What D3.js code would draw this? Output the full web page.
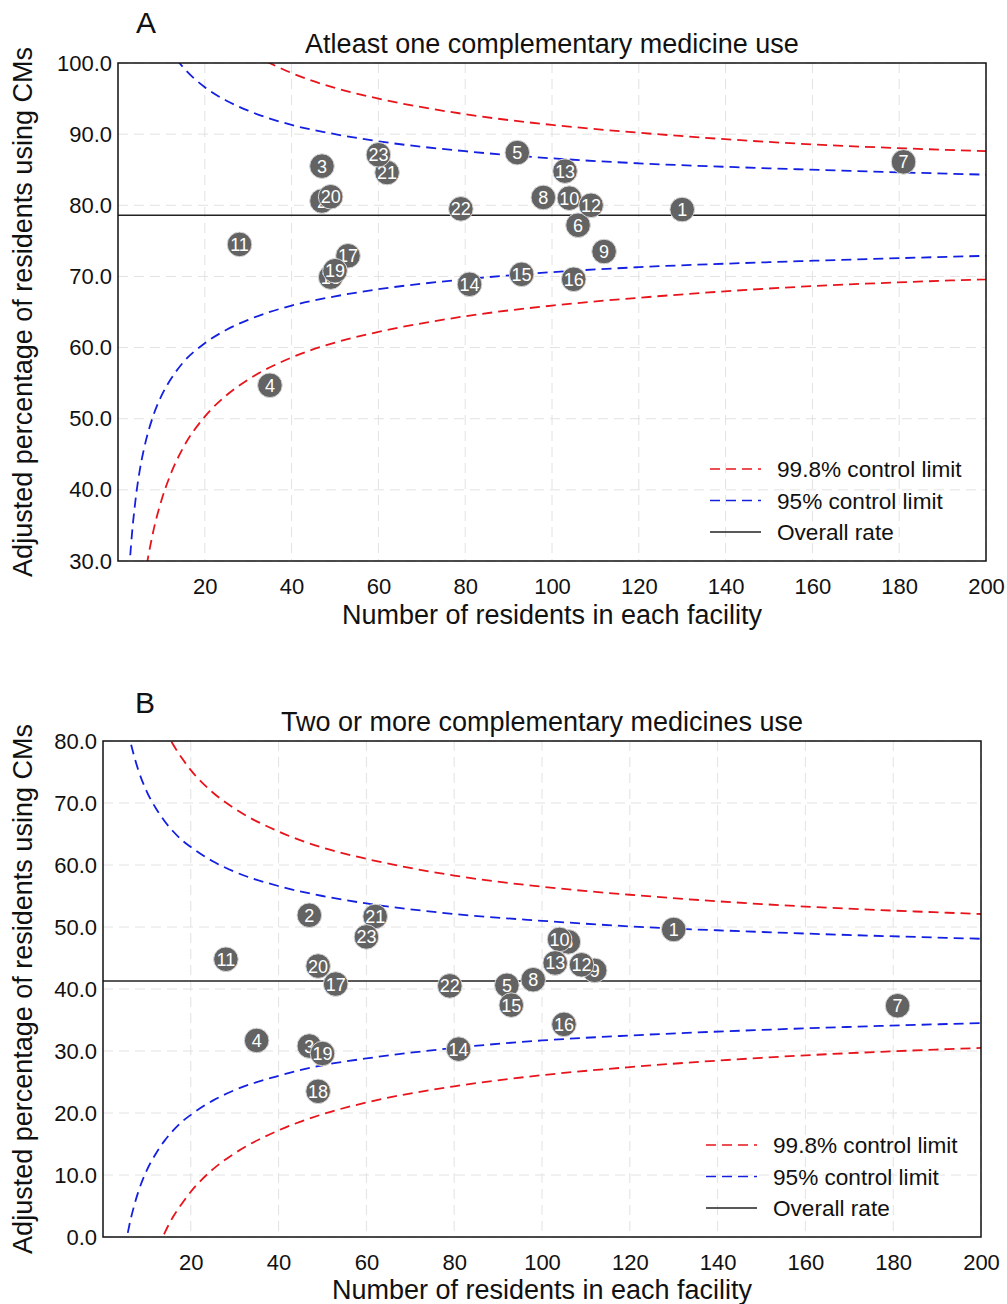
<!DOCTYPE html>
<html>
<head>
<meta charset="utf-8">
<script src="https://cdn.jsdelivr.net/npm/d3@7"></script>
<style>
  body { margin: 0; background: #fff; }
  text { font-family: Arial, "Liberation Sans", sans-serif; }
</style>
</head>
<body>
<script>
//Width and height
var w = 1007;
var h = 1304;

//Data: facilities (same facilities in both panels)
var facilityIds = [1, 2, 3, 4, 5, 6, 7, 8, 9, 10, 11, 12, 13, 14, 15, 16, 17, 18, 19, 20, 21, 22, 23];
var residents   = [130, 47, 47, 35, 92, 106, 181, 98, 112, 104, 28, 109, 103, 81, 93, 105, 53, 49, 50, 49, 62, 79, 60];

//Panel A: at least one CM
var rateA = [79.4, 80.6, 85.5, 54.7, 87.4, 77.2, 86.1, 81.1, 73.5, 81.0, 74.5, 80.0, 84.8, 68.9, 70.3, 69.6, 72.9, 69.9, 70.8, 81.2, 84.6, 79.5, 87.1];
var overallA = 78.6;
var limitNA    = [2, 2.5, 3, 4, 5, 6, 8, 10, 12, 15, 20, 25, 30, 40, 50, 60, 80, 100, 120, 150, 200];
var upper95A   = [135.4, 129.4, 125.0, 118.8, 114.6, 111.4, 107.0, 104.0, 101.8, 99.4, 96.6, 94.7, 93.3, 91.3, 90.0, 89.0, 87.6, 86.6, 85.9, 85.2, 84.3];
var lower95A   = [21.8, 27.8, 32.2, 38.4, 42.7, 45.8, 50.2, 53.2, 55.4, 57.9, 60.6, 62.5, 63.9, 65.9, 67.2, 68.2, 69.6, 70.6, 71.3, 72.0, 72.9];
var upper998A  = [168.2, 158.7, 151.8, 142.0, 135.3, 130.3, 123.4, 118.7, 115.2, 111.3, 106.9, 103.9, 101.7, 98.6, 96.5, 95.0, 92.8, 91.3, 90.2, 88.9, 87.6];
var lower998A  = [-11.0, -1.5, 5.5, 15.3, 21.9, 26.9, 33.8, 38.5, 42.0, 45.9, 50.3, 53.3, 55.5, 58.6, 60.7, 62.2, 64.4, 65.9, 67.0, 68.3, 69.6];

//Panel B: two or more CMs
var rateB = [49.6, 51.9, 30.8, 31.7, 40.6, 47.6, 37.3, 41.5, 43.0, 48.0, 44.8, 43.9, 44.2, 30.3, 37.4, 34.3, 40.8, 23.5, 29.6, 43.7, 51.7, 40.5, 48.4];
var overallB = 41.3;
var limitNB    = [4, 5, 6, 7, 8, 10, 12, 14, 16, 18, 20, 25, 30, 40, 50, 60, 80, 100, 120, 150, 200];
var upper95B   = [89.6, 84.5, 80.7, 77.8, 75.4, 71.8, 69.2, 67.1, 65.4, 64.0, 62.9, 60.6, 58.9, 56.6, 55.0, 53.8, 52.1, 51.0, 50.1, 49.2, 48.1];
var lower95B   = [-7.0, -1.9, 1.9, 4.8, 7.2, 10.8, 13.4, 15.5, 17.2, 18.6, 19.7, 22.0, 23.7, 26.0, 27.7, 28.8, 30.5, 31.7, 32.5, 33.4, 34.5];
var upper998B  = [117.4, 109.4, 103.4, 98.8, 95.1, 89.4, 85.2, 82.0, 79.4, 77.2, 75.3, 71.7, 69.1, 65.4, 62.8, 61.0, 58.3, 56.5, 55.2, 53.7, 52.1];
var lower998B  = [-34.8, -26.8, -20.8, -16.2, -12.5, -6.8, -2.6, 0.6, 3.3, 5.4, 7.3, 10.9, 13.5, 17.2, 19.8, 21.7, 24.3, 26.1, 27.4, 28.9, 30.5];

//Tick labels
var xTicks = [20, 40, 60, 80, 100, 120, 140, 160, 180, 200];
var yTicksA = [30, 40, 50, 60, 70, 80, 90, 100];
var yTicksB = [0, 10, 20, 30, 40, 50, 60, 70, 80];

var legendLabels = ["99.8% control limit", "95% control limit", "Overall rate"];

//Create SVG element
var svg = d3.select("body")
            .append("svg")
            .attr("width", w)
            .attr("height", h);

function drawPanel(p) {
    var x = d3.scaleLinear().domain([0, 200]).range([p.left, p.right]);
    var y = d3.scaleLinear().domain(p.yDomain).range([p.bottom, p.top]);
    var g = svg.append("g");

    //clip for the funnel curves
    g.append("clipPath").attr("id", p.id + "-clip")
        .append("rect")
        .attr("x", p.left).attr("y", p.top)
        .attr("width", p.right - p.left).attr("height", p.bottom - p.top);

    //grid
    g.selectAll(".vgrid").data(xTicks).enter().append("line")
        .attr("x1", function(d) { return x(d); })
        .attr("x2", function(d) { return x(d); })
        .attr("y1", p.top).attr("y2", p.bottom)
        .attr("stroke", "#e2e2e2").attr("stroke-width", 1)
        .attr("stroke-dasharray", "10,6");
    g.selectAll(".hgrid").data(p.yTicks).enter().append("line")
        .attr("x1", p.left).attr("x2", p.right)
        .attr("y1", function(d) { return y(d); })
        .attr("y2", function(d) { return y(d); })
        .attr("stroke", "#e2e2e2").attr("stroke-width", 1)
        .attr("stroke-dasharray", "10,6");

    //axes (labels only, no tick marks)
    var xAxis = g.append("g")
        .attr("transform", "translate(0," + p.bottom + ")")
        .call(d3.axisBottom(x).tickValues(xTicks).tickSize(0).tickPadding(17).tickFormat(d3.format("d")));
    var yAxis = g.append("g")
        .attr("transform", "translate(" + p.left + ",0)")
        .call(d3.axisLeft(y).tickValues(p.yTicks).tickSize(0).tickPadding(6).tickFormat(d3.format(".1f")));
    [xAxis, yAxis].forEach(function(a) {
        a.select(".domain").remove();
        a.selectAll("text").attr("font-size", 22).attr("fill", "#111")
            .style("font-family", "Arial, 'Liberation Sans', sans-serif");
    });

    //funnel limits
    var line = d3.line()
        .x(function(d) { return x(d[0]); })
        .y(function(d) { return y(d[1]); })
        .curve(d3.curveMonotoneX);
    var curves = [
        { v: p.upper998, c: "#e8141b" }, { v: p.lower998, c: "#e8141b" },
        { v: p.upper95, c: "#1420e0" },  { v: p.lower95, c: "#1420e0" }
    ];
    var cg = g.append("g").attr("clip-path", "url(#" + p.id + "-clip)");
    curves.forEach(function(c) {
        cg.append("path")
          .attr("d", line(d3.zip(p.limitN, c.v)))
          .attr("fill", "none")
          .attr("stroke", c.c)
          .attr("stroke-width", 1.8)
          .attr("stroke-dasharray", "10,6");
    });

    //overall rate
    g.append("line")
        .attr("x1", p.left).attr("x2", p.right)
        .attr("y1", y(p.overall)).attr("y2", y(p.overall))
        .attr("stroke", "#222").attr("stroke-width", 1.4);

    //frame
    g.append("rect")
        .attr("x", p.left).attr("y", p.top)
        .attr("width", p.right - p.left).attr("height", p.bottom - p.top)
        .attr("fill", "none").attr("stroke", "#111").attr("stroke-width", 1.5);

    //facility points
    var pts = g.selectAll(".pt")
        .data(facilityIds)
        .enter()
        .append("g")
        .attr("transform", function(d, i) {
            return "translate(" + x(residents[i]) + "," + y(p.rates[i]) + ")";
        });
    pts.append("circle")
        .attr("r", 12.3)
        .attr("fill", "#636363")
        .attr("stroke", "#d8d8d8")
        .attr("stroke-width", 1);
    pts.append("text")
        .attr("text-anchor", "middle")
        .attr("dy", "0.36em")
        .attr("font-size", 18)
        .attr("fill", "#fff")
        .text(function(d) { return d; });

    //legend
    var legendStyles = [
        { c: "#e8141b", dash: "10,6" },
        { c: "#1420e0", dash: "10,6" },
        { c: "#222", dash: null }
    ];
    legendLabels.forEach(function(lab, i) {
        var ly = p.legendY + i * 31.5;
        g.append("line")
            .attr("x1", p.legendX).attr("x2", p.legendX + 51)
            .attr("y1", ly).attr("y2", ly)
            .attr("stroke", legendStyles[i].c)
            .attr("stroke-width", 1.6)
            .attr("stroke-dasharray", legendStyles[i].dash);
        g.append("text")
            .attr("x", p.legendX + 67).attr("y", ly + 8)
            .attr("font-size", 22.6)
            .attr("fill", "#111")
            .text(lab);
    });

    //titles
    g.append("text")
        .attr("x", p.letterX).attr("y", p.letterY)
        .attr("text-anchor", "middle")
        .attr("font-size", 30)
        .attr("fill", "#111")
        .text(p.letter);
    g.append("text")
        .attr("x", (p.left + p.right) / 2).attr("y", p.titleY)
        .attr("text-anchor", "middle")
        .attr("font-size", 27)
        .attr("fill", "#111")
        .text(p.title);
    g.append("text")
        .attr("x", (p.left + p.right) / 2).attr("y", p.xLabelY)
        .attr("text-anchor", "middle")
        .attr("font-size", 27)
        .attr("fill", "#111")
        .text("Number of residents in each facility");
    g.append("text")
        .attr("transform", "translate(32," + (p.top + p.bottom) / 2 + ") rotate(-90)")
        .attr("text-anchor", "middle")
        .attr("font-size", 27)
        .attr("fill", "#111")
        .text("Adjusted percentage of residents using CMs");
}

drawPanel({
    id: "a", letter: "A", title: "Atleast one complementary medicine use",
    left: 118, right: 986, top: 63, bottom: 561,
    yDomain: [30, 100], yTicks: yTicksA,
    rates: rateA, overall: overallA,
    limitN: limitNA, upper95: upper95A, lower95: lower95A, upper998: upper998A, lower998: lower998A,
    legendX: 710, legendY: 469,
    letterX: 146, letterY: 33, titleY: 53, xLabelY: 624
});

drawPanel({
    id: "b", letter: "B", title: "Two or more complementary medicines use",
    left: 103, right: 981, top: 741, bottom: 1237,
    yDomain: [0, 80], yTicks: yTicksB,
    rates: rateB, overall: overallB,
    limitN: limitNB, upper95: upper95B, lower95: lower95B, upper998: upper998B, lower998: lower998B,
    legendX: 706, legendY: 1145,
    letterX: 145, letterY: 713, titleY: 731, xLabelY: 1299
});
</script>
</body>
</html>
